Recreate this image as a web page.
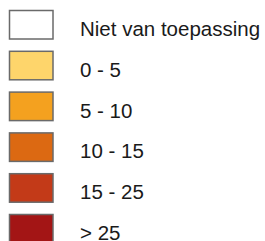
<!DOCTYPE html>
<html>
<head>
<meta charset="utf-8">
<script src="https://cdn.jsdelivr.net/npm/d3@7"></script>
<style>
	html, body { margin: 0; padding: 0; background: #fff; }
	svg { display: block; }
</style>
</head>
<body>
<div id="chart"></div>
<script>
// legend classes
var labels = ['Niet van toepassing', '0 - 5', '5 - 10', '10 - 15', '15 - 25', '> 25'];
var colors = ['#ffffff', '#fed56b', '#f4a11f', '#dc6912', '#c33a18', '#a31515'];

var width = 265,
	height = 241;

var svg = d3
	.select('#chart')
	.append('svg')
	.attr('width', width)
	.attr('height', height);

// row positions
var y = d3
	.scalePoint()
	.domain(labels)
	.range([10, 214]);

var rows = svg
	.selectAll('.row')
	.data(labels)
	.enter()
	.append('g')
	.attr('class', 'row')
	.attr('transform', function(d) {
		return 'translate(0,' + y(d) + ')';
	});

rows
	.append('rect')
	.attr('x', 9.5)
	.attr('y', 0.5)
	.attr('width', 43.5)
	.attr('height', 28.5)
	.attr('fill', function(d, i) {
		return colors[i];
	})
	.attr('stroke', '#6a6a6a')
	.attr('stroke-width', 1.5);

rows
	.append('text')
	.attr('x', 80)
	.attr('y', 26)
	.attr('font-family', 'Liberation Sans, Arial, sans-serif')
	.attr('font-size', 20.5)
	.attr('fill', '#1a1a1a')
	.text(function(d) {
		return d;
	});
</script>
</body>
</html>
